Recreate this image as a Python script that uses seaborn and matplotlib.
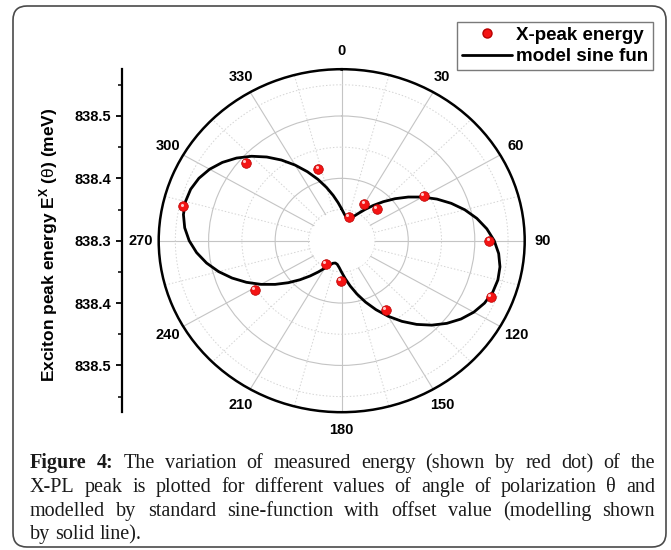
import numpy as np
import pandas as pd
import matplotlib
matplotlib.use("Agg")
import matplotlib.pyplot as plt
import matplotlib.transforms as mtransforms
from matplotlib.patches import FancyBboxPatch
from matplotlib.lines import Line2D
from matplotlib.ticker import FixedLocator
import seaborn as sns

# ---------------- data ----------------
point_angle_deg = [15, 30, 46, 60, 90, 112, 149, 181, 212, 239, 283, 311, 343]
point_energy = [838.340, 838.368, 838.373, 838.443, 838.522, 838.542, 838.430,
                838.365, 838.344, 838.452, 838.544, 838.491, 838.420]

# model curve read every 5 degrees over one 180-degree period (curve repeats)
model_angle_half = [0, 5, 10, 15, 20, 25, 30, 35, 40, 45, 50, 55, 60, 65, 70, 75, 80, 85,
                    90, 95, 100, 105, 110, 115, 120, 125, 130, 135, 140, 145, 150, 155, 160, 165, 170, 175]
model_energy_half = [838.3508, 838.3432, 838.3385, 838.3370, 838.3385, 838.3432, 838.3508, 838.3611,
                     838.3738, 838.3885, 838.4048, 838.4221, 838.4400, 838.4579, 838.4752, 838.4915,
                     838.5062, 838.5189, 838.5292, 838.5368, 838.5415, 838.5430, 838.5415, 838.5368,
                     838.5292, 838.5189, 838.5062, 838.4915, 838.4752, 838.4579, 838.4400, 838.4221,
                     838.4048, 838.3885, 838.3738, 838.3611]

theta_tick_deg = [0, 30, 60, 90, 120, 150, 180, 210, 240, 270, 300, 330]
theta_tick_labels = ["0", "30", "60", "90", "120", "150", "180", "210", "240", "270", "300", "330"]
theta_minor_deg = [15, 45, 75, 105, 135, 165, 195, 225, 255, 285, 315, 345]

r_center = 838.3
r_hole = 838.35
r_outer = 838.575
r_major = [838.4, 838.5]
r_minor = [838.35, 838.45, 838.55]

left_tick_offsets = [-0.2, -0.1, 0.0, 0.1, 0.2]
left_tick_labels = ["838.5", "838.4", "838.3", "838.4", "838.5"]
left_minor_offsets = [-0.25, -0.15, -0.05, 0.05, 0.15, 0.25]

y_label = r"Exciton peak energy E$^{\bf X}$ ($\theta$) (meV)"
legend_labels = ["X-peak energy", "model sine fun"]

caption_bold = ["Figure", "4:"]
caption_lines = [
    "The variation of measured energy (shown by red dot) of the",
    "X-PL peak is plotted for different values of angle of polarization θ and",
    "modelled by standard sine-function with offset value (modelling shown",
    "by solid line).",
]

# ---------------- build tables ----------------
model_angle = model_angle_half + [a + 180 for a in model_angle_half] + [360]
model_energy = model_energy_half + model_energy_half + [model_energy_half[0]]
df_model = pd.DataFrame({"theta": np.deg2rad(model_angle), "energy": model_energy})
df_pts = pd.DataFrame({"theta": np.deg2rad(point_angle_deg), "energy": point_energy})

# ---------------- style ----------------
sns.set_theme(style="white")
plt.rcParams["font.family"] = ["Liberation Sans", "DejaVu Sans"]
plt.rcParams["mathtext.fontset"] = "custom"
plt.rcParams["mathtext.bf"] = "Liberation Sans:bold"
plt.rcParams["mathtext.rm"] = "Liberation Sans"
plt.rcParams["mathtext.it"] = "Liberation Sans"
for key in ["text.color", "axes.labelcolor", "xtick.color", "ytick.color"]:
    plt.rcParams[key] = "black"

W, H = 671, 550
fig = plt.figure(figsize=(W / 100, H / 100), dpi=100)
fig.patch.set_facecolor("white")

# polar axes (slightly elliptical like the reference)
cx, cy, rx, ry = 341.7, 240.7, 183.0, 171.5
ax = fig.add_axes([(cx - rx) / W, 1 - (cy + ry) / H, 2 * rx / W, 2 * ry / H], projection="polar")
ax.set_aspect("auto")
ax.set_theta_zero_location("N")
ax.set_theta_direction(-1)
ax.set_facecolor("white")

sns.lineplot(data=df_model, x="theta", y="energy", sort=False, estimator=None,
             color="black", linewidth=2.0, ax=ax, zorder=3)
sns.scatterplot(data=df_pts, x="theta", y="energy", s=48, color="#f41414",
                edgecolor="#b80000", linewidth=0.5, ax=ax, zorder=4)
hl = ax.transData + mtransforms.ScaledTranslation(-1.3 / 72, 1.3 / 72, fig.dpi_scale_trans)
ax.scatter(df_pts["theta"], df_pts["energy"], s=5, color="#ffc8c8", linewidths=0,
           transform=hl, zorder=5)

# white hole in the middle (no grid inside)
hole_t = np.linspace(0, 2 * np.pi, 200)
ax.fill_between(hole_t, r_center, r_hole - 0.0015, color="white", zorder=1.6, linewidth=0)

ax.set_ylim(r_center, r_outer)
ax.set_yticks(r_major)
ax.yaxis.set_minor_locator(FixedLocator(r_minor))
ax.set_yticklabels([])
ax.tick_params(axis="y", which="both", length=0)

ax.set_xticks(np.deg2rad(theta_tick_deg))
ax.set_xticklabels(theta_tick_labels, fontsize=10.5, fontweight="bold")
ax.xaxis.set_minor_locator(FixedLocator(np.deg2rad(theta_minor_deg)))
ax.tick_params(axis="x", which="major", direction="in", length=6, width=1.2, pad=6, colors="black")
ax.tick_params(axis="x", which="minor", direction="in", length=3.5, width=1.0)

ax.grid(True, which="major", color="#c4c4c4", linewidth=0.8, linestyle="-")
ax.grid(True, which="minor", color="#d4d4d4", linewidth=0.7, linestyle=(0, (1.5, 2)))
ax.spines["polar"].set_linewidth(1.8)
ax.spines["polar"].set_color("black")
ax.set_xlabel("")
ax.set_ylabel("")
if ax.get_legend() is not None:
    ax.get_legend().remove()

# left linear energy axis
axl = fig.add_axes([122 / W, 1 - (cy + ry) / H, 0.0001, 2 * ry / H])
axl.set_ylim(-0.275, 0.275)
for s in ["top", "right", "bottom"]:
    axl.spines[s].set_visible(False)
axl.spines["left"].set_linewidth(1.6)
axl.spines["left"].set_color("black")
axl.set_xticks([])
axl.set_yticks(left_tick_offsets)
axl.set_yticklabels(left_tick_labels, fontsize=10.5, fontweight="bold")
axl.yaxis.set_minor_locator(FixedLocator(left_minor_offsets))
axl.tick_params(axis="y", which="major", direction="out", length=4, width=1.3, pad=4, left=True)
axl.tick_params(axis="y", which="minor", direction="out", length=3, width=1.1, left=True)
axl.patch.set_visible(False)

fig.text(49 / W, 1 - 245 / H, y_label, rotation=90, ha="center", va="center",
         fontsize=12.5, fontweight="bold")

# legend
handles = [
    Line2D([], [], marker="o", linestyle="none", markerfacecolor="#f41414",
           markeredgecolor="#b80000", markersize=6.5),
    Line2D([], [], color="black", linewidth=2.0),
]
leg = fig.legend(handles, legend_labels, loc="upper right",
                 bbox_to_anchor=(653 / W, 1 - 22 / H), frameon=True, fancybox=False,
                 edgecolor="#7a7a7a", framealpha=1, borderaxespad=0,
                 prop={"weight": "bold", "size": 13.5}, handlelength=2.7,
                 borderpad=0.25, labelspacing=0.22, handletextpad=0.2)
leg.get_frame().set_linewidth(1.0)

# figure frame with rounded corners
frame = FancyBboxPatch((13 / 100, 3 / 100), (666 - 13) / 100, (544 - 3) / 100,
                       boxstyle="round,pad=0,rounding_size=0.14",
                       transform=fig.dpi_scale_trans, fill=False,
                       edgecolor="#4a4a4a", linewidth=1.2)
fig.add_artist(frame)

# caption, justified word by word
renderer = fig.canvas.get_renderer()
cap_font = dict(fontsize=14.5, family="Liberation Serif")
x_left, x_right = 30.0, 655.0
baselines = [468, 492, 516, 539]


def word_width(word, bold):
    t = fig.text(0, 0, word, fontweight="bold" if bold else "normal", **cap_font)
    w = t.get_window_extent(renderer).width
    t.remove()
    return w


space_w = word_width("a b", False) - word_width("ab", False)
for i, line in enumerate(caption_lines):
    words = [(w, True) for w in caption_bold] if i == 0 else []
    words += [(w, False) for w in line.split(" ")]
    widths = [word_width(w, b) for w, b in words]
    justified = i < len(caption_lines) - 1
    if justified:
        gap = (x_right - x_left - sum(widths)) / (len(words) - 1)
    else:
        gap = space_w
    x = x_left
    for (w, b), wd in zip(words, widths):
        fig.text(x / W, 1 - baselines[i] / H, w, ha="left", va="baseline",
                 fontweight="bold" if b else "normal", color="#1a1a1a", **cap_font)
        x += wd + gap

fig.savefig("out.png", dpi=100)
